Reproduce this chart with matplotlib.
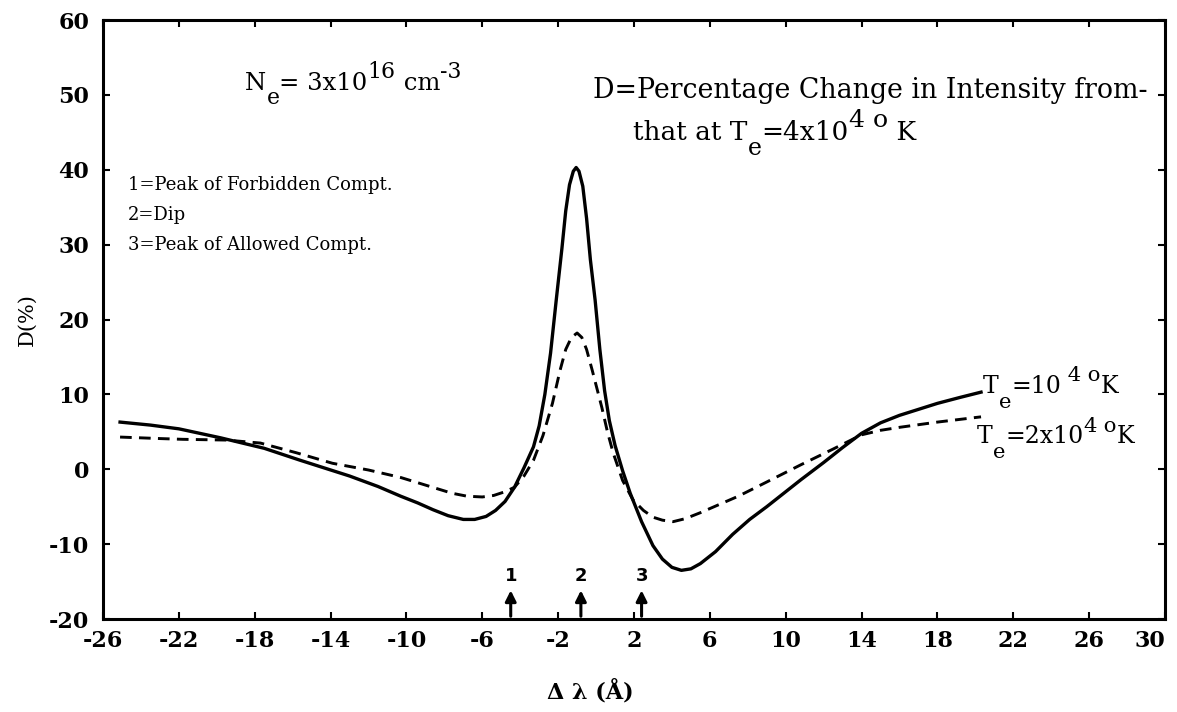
import matplotlib
matplotlib.use("Agg")
import matplotlib.pyplot as plt

plt.rcParams['font.family'] = ['DejaVu Serif']
plt.rcParams['axes.unicode_minus'] = False

# Te = 1e4 K (solid)
x_solid = [-25.1, -23.5, -22, -19.8, -17.5, -15.6, -13, -11.5, -10.3, -9.4, -8.6, -7.8, -7.0,
           -6.4, -5.8, -5.3, -4.8, -4.3, -3.8, -3.3, -3.0, -2.7, -2.4, -2.1, -1.8, -1.6,
           -1.4, -1.2, -1.05, -0.9, -0.7, -0.5, -0.3, -0.05, 0.2, 0.45, 0.7, 1.0, 1.4,
           1.8, 2.4, 3.0, 3.5, 4.0, 4.5, 5.0, 5.5, 6.3, 7.2, 8.1, 9.0, 10.0, 10.8, 12.0,
           13.0, 14.0, 15.0, 16.0, 17.0, 18.0, 19.2, 20.3]
y_solid = [6.3, 5.9, 5.4, 4.2, 2.8, 1.2, -0.9, -2.3, -3.6, -4.5, -5.4, -6.2, -6.7,
           -6.7, -6.3, -5.5, -4.3, -2.4, 0.2, 3.0, 5.8, 10.0, 15.5, 22.6, 29.5, 34.5,
           38.0, 39.8, 40.3, 39.8, 37.8, 33.5, 28.0, 22.6, 16.0, 10.5, 6.5, 3.2, -0.2,
           -3.2, -7.0, -10.2, -12.0, -13.1, -13.5, -13.3, -12.6, -11.0, -8.7, -6.7, -5.0, -3.0, -1.4, 0.9,
           2.9, 4.8, 6.2, 7.2, 8.0, 8.8, 9.6, 10.3]

# Te = 2e4 K (dashed)
x_dash = [-25.1, -23, -21.8, -19.5, -17.7, -15.8, -13.9, -12, -10.3, -9.4, -8.5, -7.6, -6.8,
          -6.0, -5.4, -4.8, -4.3, -3.8, -3.3, -2.8, -2.3, -1.9, -1.6, -1.3, -1.0, -0.75,
          -0.5, -0.2, 0.3, 0.6, 0.9, 1.4, 1.95, 2.5, 3.0, 3.5, 4.06, 4.7, 5.5, 6.5, 7.5,
          9.0, 10.8, 12.5, 14.0, 15.0, 16.0, 18.0, 20.3]
y_dash = [4.3, 4.1, 4.0, 3.9, 3.5, 2.2, 0.8, -0.1, -1.1, -1.8, -2.5, -3.2, -3.6,
          -3.7, -3.5, -3.0, -2.4, -0.9, 1.2, 4.5, 8.8, 13.2, 16.0, 17.6, 18.2, 17.6,
          16.0, 13.2, 8.3, 5.0, 2.2, -1.5, -4.1, -5.5, -6.4, -6.8, -7.0, -6.6, -5.8, -4.7, -3.6,
          -1.7, 0.6, 2.7, 4.6, 5.2, 5.6, 6.3, 7.0]

x_ticks = list(range(-26, 31, 4))
y_ticks = list(range(-20, 61, 10))
marker_x = [-4.5, -0.8, 2.4]
marker_lbl = ['1', '2', '3']


def rich(ax, x, y, parts, size):
    # chain text pieces so sub/superscripts sit like in the typed original
    prev = ax.text(x, y, parts[0][0], fontsize=size, va='baseline')
    prev_rise = parts[0][1]
    for s, rise, sc in parts[1:]:
        prev = ax.annotate(s, xy=(1, 0), xycoords=prev, xytext=(0, rise - prev_rise),
                           textcoords='offset points', fontsize=size * sc,
                           va='bottom', ha='left')
        prev_rise = rise


fig = plt.figure(figsize=(11.77, 7.12), dpi=100)
ax = fig.add_axes([0.0875, 0.1306, 0.9023, 0.8413])

ax.plot(x_solid, y_solid, color='black', lw=2.4)
ax.plot(x_dash, y_dash, color='black', lw=2.1, dashes=(4, 2.5))

ax.set_xlim(-26, 30)
ax.set_ylim(-20, 60)
ax.set_xticks(x_ticks)
ax.set_yticks(y_ticks)
ax.tick_params(direction='in', length=5, width=1.5, top=True, right=True, labelsize=16)
ax.tick_params(axis='x', pad=8)
ax.tick_params(axis='y', pad=10)
for lab in ax.get_xticklabels() + ax.get_yticklabels():
    lab.set_fontweight('bold')
ax.get_xticklabels()[-1].set_ha('right')
for s in ax.spines.values():
    s.set_linewidth(2.2)

# arrows for the three features
for xm, lb in zip(marker_x, marker_lbl):
    ax.annotate('', xy=(xm, -15.8), xytext=(xm, -20),
                arrowprops=dict(arrowstyle='-|>', lw=2.2, color='black', mutation_scale=16))
    ax.text(xm, -14.2, lb, ha='center', va='center', fontsize=13, fontweight='bold',
            family='DejaVu Sans')

rich(ax, -18.5, 50.6, [('N', 0, 1), ('e', -10, 0.9), ('= 3x10', 0, 1), ('16', 9, 0.9),
                       (' cm', 0, 1), ('-3', 9, 0.9)], 17.5)
ax.text(-0.15, 49.6, 'D=Percentage Change in Intensity from-', fontsize=19.3, va='baseline')
rich(ax, 1.95, 44.0, [('that at T', 0, 1), ('e', -11, 0.9), ('=4x10', 0, 1), ('4', 9, 0.95),
                      (' o', 9, 0.95), (' K', 0, 1)], 19)
ax.text(-24.7, 38, '1=Peak of Forbidden Compt.', fontsize=13, va='center')
ax.text(-24.7, 34, '2=Dip', fontsize=13, va='center')
ax.text(-24.7, 30, '3=Peak of Allowed Compt.', fontsize=13, va='center')
rich(ax, 20.4, 10.2, [('T', 0, 1), ('e', -10, 0.9), ('=10', 0, 1), (' 4', 9, 0.9),
                      (' o', 9, 0.9), ('K', 0, 1)], 17)
rich(ax, 20.1, 3.5, [('T', 0, 1), ('e', -10, 0.9), ('=2x10', 0, 1), ('4', 9, 0.9),
                     (' o', 9, 0.9), ('K', 0, 1)], 17)

ax.set_ylabel('D(%)', fontsize=15, labelpad=9)
ax.text(-0.3, -0.1, r'Δ λ (Å)', transform=ax.get_xaxis_transform(), ha='center', va='top',
        fontsize=16, fontweight='bold')

fig.savefig('out.png', dpi=100)
